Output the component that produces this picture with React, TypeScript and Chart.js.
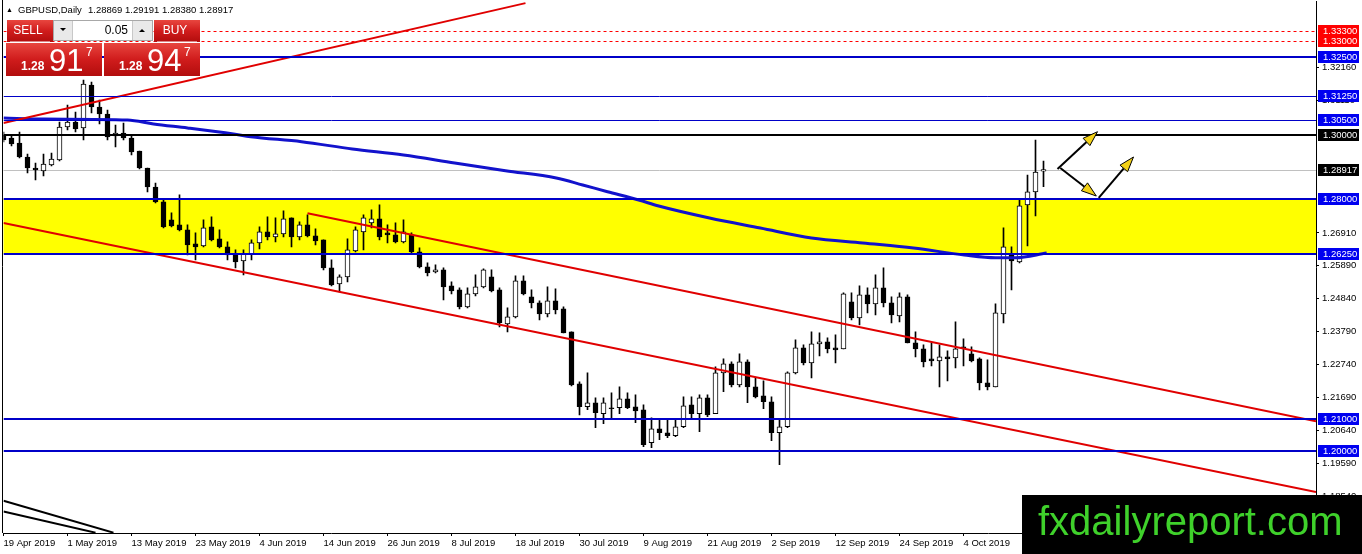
import React, { useEffect, useRef } from 'react';
import { Chart, registerables } from 'chart.js';

Chart.register(...registerables);

const FONT = '"Liberation Sans", Arial, sans-serif';

const SYMBOL = 'GBPUSD';
const TIMEFRAME = 'Daily';

const DATE_INDEX = [0, 8, 16, 24, 32, 40, 48, 56, 64, 72, 80, 88, 96, 104, 112, 120];
const DATE_LABELS = [
  '19 Apr 2019', '1 May 2019', '13 May 2019', '23 May 2019', '4 Jun 2019', '14 Jun 2019',
  '26 Jun 2019', '8 Jul 2019', '18 Jul 2019', '30 Jul 2019', '9 Aug 2019', '21 Aug 2019',
  '2 Sep 2019', '12 Sep 2019', '24 Sep 2019', '4 Oct 2019',
];

const OPEN = [
  1.30016, 1.29921, 1.29762, 1.29318, 1.28970, 1.28875, 1.29065, 1.29223, 1.30269, 1.30428,
  1.30238, 1.31601, 1.30903, 1.30682, 1.29984, 1.30079, 1.29921, 1.29509, 1.28970, 1.28367,
  1.27892, 1.27321, 1.27163, 1.27004, 1.26560, 1.26497, 1.27099, 1.26719, 1.26465, 1.26243,
  1.26022, 1.26243, 1.26592, 1.26941, 1.26782, 1.26878, 1.27385, 1.26782, 1.27163, 1.26814,
  1.26687, 1.25800, 1.25292, 1.25514, 1.26339, 1.26941, 1.27226, 1.27353, 1.26909, 1.26846,
  1.26624, 1.26846, 1.26307, 1.25831, 1.25673, 1.25736, 1.25229, 1.25102, 1.24563, 1.24975,
  1.25197, 1.25514, 1.25102, 1.24024, 1.24246, 1.25388, 1.24880, 1.24690, 1.24341, 1.24753,
  1.24500, 1.23770, 1.22122, 1.21393, 1.21520, 1.21171, 1.21362, 1.21362, 1.21647, 1.21393,
  1.21298, 1.20252, 1.20696, 1.20569, 1.20474, 1.20759, 1.21457, 1.21171, 1.21678, 1.21171,
  1.22471, 1.22756, 1.22090, 1.22820, 1.22027, 1.21742, 1.21552, 1.20569, 1.20759, 1.22471,
  1.23264, 1.22788, 1.23391, 1.23454, 1.23264, 1.23232, 1.24722, 1.24214, 1.24944, 1.24658,
  1.25166, 1.24690, 1.24278, 1.24880, 1.23422, 1.23232, 1.22915, 1.22852, 1.22978, 1.22947,
  1.23296, 1.23074, 1.22915, 1.22154, 1.22027, 1.24341, 1.26212, 1.25990, 1.27797, 1.28209,
  1.28869,
];
const HIGH = [
  1.30111, 1.29984, 1.30111, 1.29414, 1.29128, 1.29414, 1.29445, 1.30428, 1.30967, 1.30745,
  1.31759, 1.31696, 1.31125, 1.30808, 1.30333, 1.30396, 1.30016, 1.29509, 1.28970, 1.28494,
  1.27955, 1.27543, 1.28114, 1.27163, 1.26909, 1.27321, 1.27416, 1.27004, 1.26624, 1.26370,
  1.26370, 1.26687, 1.27099, 1.27416, 1.27385, 1.27607, 1.27385, 1.27258, 1.27480, 1.27036,
  1.26687, 1.26053, 1.25578, 1.26719, 1.27099, 1.27480, 1.27638, 1.27797, 1.27163, 1.27226,
  1.27321, 1.26909, 1.26434, 1.25958, 1.25895, 1.25800, 1.25356, 1.25166, 1.25166, 1.25578,
  1.25768, 1.25736, 1.25166, 1.24532, 1.25546, 1.25546, 1.25102, 1.24753, 1.25197, 1.25134,
  1.24563, 1.23770, 1.22185, 1.22471, 1.21678, 1.21678, 1.21837, 1.22027, 1.21837, 1.21773,
  1.21457, 1.21044, 1.20981, 1.20981, 1.20981, 1.21710, 1.21710, 1.21773, 1.21773, 1.22661,
  1.22915, 1.22820, 1.23074, 1.22883, 1.22312, 1.22217, 1.21710, 1.20981, 1.22503, 1.23518,
  1.23359, 1.23770, 1.23739, 1.23581, 1.23676, 1.25007, 1.25007, 1.25229, 1.25166, 1.25578,
  1.25800, 1.24880, 1.25007, 1.24944, 1.23770, 1.23359, 1.23422, 1.23359, 1.23169, 1.24087,
  1.23550, 1.23296, 1.22947, 1.22883, 1.24658, 1.27068, 1.26465, 1.27955, 1.28748, 1.29857,
  1.29191,
];
const LOW = [
  1.29794, 1.29667, 1.29287, 1.28811, 1.28589, 1.28716, 1.29033, 1.29192, 1.30174, 1.30111,
  1.29857, 1.30713, 1.30365, 1.29857, 1.29635, 1.29857, 1.29382, 1.28938, 1.28209, 1.27860,
  1.27068, 1.27099, 1.26973, 1.26212, 1.26053, 1.26465, 1.26656, 1.26434, 1.26053, 1.25800,
  1.25578, 1.26053, 1.26402, 1.26687, 1.26624, 1.26782, 1.26465, 1.26687, 1.26782, 1.26529,
  1.25736, 1.25229, 1.25039, 1.25356, 1.26307, 1.26370, 1.27068, 1.26687, 1.26592, 1.26592,
  1.26592, 1.26275, 1.25800, 1.25546, 1.25641, 1.24785, 1.24975, 1.24500, 1.24532, 1.24912,
  1.25166, 1.25039, 1.23929, 1.23770, 1.24214, 1.24944, 1.24532, 1.24151, 1.24246, 1.24341,
  1.23739, 1.22058, 1.21139, 1.21298, 1.20727, 1.20854, 1.20981, 1.21171, 1.21330, 1.20886,
  1.20125, 1.20094, 1.20347, 1.20410, 1.20442, 1.20727, 1.21013, 1.20600, 1.21076, 1.21171,
  1.21869, 1.22027, 1.22027, 1.21520, 1.21678, 1.21330, 1.20315, 1.19555, 1.20727, 1.22439,
  1.22725, 1.22312, 1.23010, 1.23105, 1.22788, 1.23232, 1.24151, 1.23992, 1.24373, 1.24310,
  1.24563, 1.24055, 1.24087, 1.23422, 1.22978, 1.22661, 1.22693, 1.22027, 1.22217, 1.22630,
  1.22693, 1.22820, 1.21932, 1.21932, 1.22027, 1.24055, 1.25102, 1.25958, 1.26497, 1.27448,
  1.28380,
];
const CLOSE = [
  1.29857, 1.29731, 1.29318, 1.28970, 1.28906, 1.29097, 1.29255, 1.30269, 1.30428, 1.30206,
  1.31633, 1.30903, 1.30682, 1.29952, 1.30079, 1.29921, 1.29477, 1.28970, 1.28367, 1.27892,
  1.27099, 1.27131, 1.27004, 1.26529, 1.26465, 1.27068, 1.26687, 1.26465, 1.26212, 1.25990,
  1.26243, 1.26592, 1.26941, 1.26782, 1.26878, 1.27353, 1.26782, 1.27163, 1.26814, 1.26656,
  1.25800, 1.25261, 1.25514, 1.26370, 1.27004, 1.27385, 1.27353, 1.26782, 1.26846, 1.26624,
  1.26941, 1.26307, 1.25831, 1.25641, 1.25736, 1.25197, 1.25070, 1.24563, 1.24975, 1.25197,
  1.25736, 1.25070, 1.24055, 1.24246, 1.25388, 1.24975, 1.24690, 1.24341, 1.24753, 1.24468,
  1.23739, 1.22090, 1.21393, 1.21520, 1.21203, 1.21520, 1.21330, 1.21647, 1.21362, 1.21266,
  1.20189, 1.20696, 1.20569, 1.20474, 1.20759, 1.21425, 1.21171, 1.21678, 1.21139, 1.22471,
  1.22756, 1.22090, 1.22820, 1.22027, 1.21710, 1.21552, 1.20569, 1.20759, 1.22471, 1.23264,
  1.22788, 1.23391, 1.23454, 1.23232, 1.23200, 1.24975, 1.24214, 1.24944, 1.24658, 1.25166,
  1.24690, 1.24310, 1.24880, 1.23422, 1.23232, 1.22820, 1.22852, 1.22978, 1.22915, 1.23232,
  1.23264, 1.22852, 1.22154, 1.22027, 1.24373, 1.26465, 1.26022, 1.27765, 1.28209, 1.28843,
  1.28917,
];

// moving average, read at points along the curve
const MA_X = [0, 5, 15.5, 18.75, 23, 28.75, 30.9, 37.25, 43.6, 50, 56.4, 62.75, 69.1, 72.4, 75.5, 79.4, 81.9, 88.25, 94.6, 101, 107.4, 113.75, 120.1, 124, 126.5, 130.4];
const MA_Y = [1.30555, 1.30520, 1.30492, 1.30365, 1.30238, 1.30048, 1.29962, 1.29803, 1.29572, 1.29381, 1.29127, 1.28883, 1.28652, 1.28430, 1.28217, 1.27954, 1.27763, 1.27383, 1.27065, 1.26748, 1.26589, 1.26431, 1.26209, 1.26123, 1.26123, 1.26272];

// trend lines (bar index, price)
const TREND_UP_X = [0, 65.25];
const TREND_UP_Y = [1.30396, 1.34200];
const CHANNEL_LOW_X = [0, 164.0625];
const CHANNEL_LOW_Y = [1.27226, 1.18693];
const CHANNEL_MID_X = [38, 164.0625];
const CHANNEL_MID_Y = [1.27534, 1.20931];
const BLACK_A_X = [0, 13.75];
const BLACK_A_Y = [1.18414, 1.17399];
const BLACK_B_X = [0, 11.5];
const BLACK_B_Y = [1.18074, 1.17399];

// arrows
const ARROW_X0 = [131.75, 132.1, 136.9];
const ARROW_Y0 = [1.28938, 1.28970, 1.28019];
const ARROW_X1 = [136.75, 136.6, 141.25];
const ARROW_Y1 = [1.30120, 1.28080, 1.29318];

// horizontal levels
const DASH_LEVELS = [1.333, 1.33];
const BLUE_LEVELS = [1.325, 1.3125, 1.305, 1.28, 1.2625, 1.21, 1.2];
const BLUE_WIDTHS = [2, 1, 1, 2, 2, 2, 2];
const BLACK_LEVEL = 1.3;
const ZONE_TOP = 1.28;
const ZONE_BOTTOM = 1.2625;
const BID = 1.28917;
const ASK = 1.28947;
const LOT = '0.05';

const PRICE_TICKS = [1.3216, 1.3111, 1.2691, 1.2589, 1.2484, 1.2379, 1.2274, 1.2169, 1.2064, 1.1959, 1.1854];

const X_MAX = 164.0625;
const Y_MIN = 1.17389;
const Y_MAX = 1.34267;

function pts(xs: number[], ys: number[]) {
  return xs.map((x, k) => ({ x, y: ys[k] }));
}

function redGrad(ctx: CanvasRenderingContext2D, y: number, h: number) {
  const g = ctx.createLinearGradient(0, y, 0, y + h);
  g.addColorStop(0, '#e8463f');
  g.addColorStop(0.5, '#d01c1c');
  g.addColorStop(1, '#b20d0d');
  return g;
}

function drawPanel(ctx: CanvasRenderingContext2D) {
  ctx.save();
  // SELL
  ctx.fillStyle = redGrad(ctx, 20, 22);
  ctx.fillRect(7, 20, 46, 22);
  // lot box
  ctx.fillStyle = '#e9e9e9';
  ctx.fillRect(53, 20, 100, 21);
  ctx.strokeStyle = '#a8a8a8';
  ctx.lineWidth = 1;
  ctx.strokeRect(53.5, 20.5, 99, 20);
  ctx.fillStyle = '#ffffff';
  ctx.fillRect(73, 21, 59, 19);
  ctx.strokeStyle = '#c8c8c8';
  ctx.beginPath();
  ctx.moveTo(72.5, 21); ctx.lineTo(72.5, 40);
  ctx.moveTo(132.5, 21); ctx.lineTo(132.5, 40);
  ctx.stroke();
  ctx.fillStyle = '#000';
  ctx.beginPath();
  ctx.moveTo(60, 28); ctx.lineTo(66, 28); ctx.lineTo(63, 31); ctx.closePath(); ctx.fill();
  ctx.beginPath();
  ctx.moveTo(139, 32); ctx.lineTo(145, 32); ctx.lineTo(142, 29); ctx.closePath(); ctx.fill();
  ctx.font = `12px ${FONT}`;
  ctx.textBaseline = 'middle';
  ctx.textAlign = 'right';
  ctx.fillText(LOT, 128, 31);
  // BUY
  ctx.fillStyle = redGrad(ctx, 20, 22);
  ctx.fillRect(154, 20, 46, 22);
  ctx.fillStyle = '#ffffff';
  ctx.textAlign = 'center';
  ctx.font = `12px ${FONT}`;
  ctx.fillText('SELL', 28, 31);
  ctx.fillText('BUY', 175, 31);
  ctx.fillStyle = 'rgba(255,255,255,0.5)';
  ctx.fillRect(10, 41, 40, 1);
  ctx.fillRect(157, 41, 40, 1);
  // price boxes
  const boxes = [
    { x: 6, price: BID },
    { x: 104, price: ASK },
  ];
  boxes.forEach((b) => {
    ctx.fillStyle = redGrad(ctx, 43, 33);
    ctx.fillRect(b.x, 43, 96, 33);
    const s = b.price.toFixed(5);
    const big = s.slice(4, 6);
    const small = s.slice(0, 4);
    const last = s.slice(6);
    ctx.fillStyle = '#ffffff';
    ctx.textAlign = 'left';
    ctx.textBaseline = 'alphabetic';
    ctx.font = `bold 12px ${FONT}`;
    ctx.fillText(small, b.x + 15, 70);
    ctx.font = `31px ${FONT}`;
    ctx.fillText(big, b.x + 43, 71);
    ctx.font = `12px ${FONT}`;
    ctx.fillText(last, b.x + 80, 56);
  });
  ctx.restore();
}

const mt4Plugin = {
  id: 'mt4',
  beforeDatasetsDraw(chart: any) {
    const { ctx, chartArea, scales } = chart;
    const { left, right } = chartArea;
    const y = scales.y;
    ctx.save();
    const y1 = y.getPixelForValue(ZONE_TOP);
    const y2 = y.getPixelForValue(ZONE_BOTTOM);
    ctx.fillStyle = '#ffff00';
    ctx.fillRect(left, y1, right - left, y2 - y1);
    const by = Math.round(y.getPixelForValue(BID)) + 0.5;
    ctx.strokeStyle = '#c0c0c0';
    ctx.lineWidth = 1;
    ctx.beginPath();
    ctx.moveTo(left, by);
    ctx.lineTo(right, by);
    ctx.stroke();
    ctx.restore();
  },
  afterDatasetsDraw(chart: any) {
    const { ctx, chartArea, scales } = chart;
    const { left, right, top, bottom } = chartArea;
    const x = scales.x;
    const y = scales.y;
    ctx.save();
    ctx.beginPath();
    ctx.rect(left, top, right - left, bottom - top);
    ctx.clip();
    // dashed red levels
    ctx.strokeStyle = '#ff0000';
    ctx.lineWidth = 1;
    ctx.setLineDash([3, 3]);
    DASH_LEVELS.forEach((p) => {
      const py = Math.round(y.getPixelForValue(p)) + 0.5;
      ctx.beginPath();
      ctx.moveTo(left, py);
      ctx.lineTo(right, py);
      ctx.stroke();
    });
    ctx.setLineDash([]);
    // blue levels
    ctx.strokeStyle = '#0000c8';
    BLUE_LEVELS.forEach((p, k) => {
      const w = BLUE_WIDTHS[k];
      ctx.lineWidth = w;
      const py = Math.round(y.getPixelForValue(p)) + (w % 2 ? 0.5 : 0);
      ctx.beginPath();
      ctx.moveTo(left, py);
      ctx.lineTo(right, py);
      ctx.stroke();
    });
    // black 1.30000
    ctx.strokeStyle = '#000000';
    ctx.lineWidth = 2;
    const ky = Math.round(y.getPixelForValue(BLACK_LEVEL));
    ctx.beginPath();
    ctx.moveTo(left, ky);
    ctx.lineTo(right, ky);
    ctx.stroke();
    // arrows
    ARROW_X0.forEach((_, k) => {
      const x0 = x.getPixelForValue(ARROW_X0[k]);
      const y0 = y.getPixelForValue(ARROW_Y0[k]);
      const x1 = x.getPixelForValue(ARROW_X1[k]);
      const y1 = y.getPixelForValue(ARROW_Y1[k]);
      const a = Math.atan2(y1 - y0, x1 - x0);
      const L = 15;
      const W = 5;
      const bx = x1 - L * Math.cos(a);
      const by = y1 - L * Math.sin(a);
      ctx.strokeStyle = '#000';
      ctx.lineWidth = 2;
      ctx.beginPath();
      ctx.moveTo(x0, y0);
      ctx.lineTo(bx, by);
      ctx.stroke();
      ctx.beginPath();
      ctx.moveTo(x1, y1);
      ctx.lineTo(bx + W * Math.sin(a), by - W * Math.cos(a));
      ctx.lineTo(bx - W * Math.sin(a), by + W * Math.cos(a));
      ctx.closePath();
      ctx.fillStyle = '#f3d116';
      ctx.fill();
      ctx.lineWidth = 1;
      ctx.strokeStyle = '#000';
      ctx.stroke();
    });
    ctx.restore();
  },
  afterDraw(chart: any) {
    const { ctx, chartArea, scales } = chart;
    const { right, bottom } = chartArea;
    const y = scales.y;
    ctx.save();
    // left border
    ctx.strokeStyle = '#000';
    ctx.lineWidth = 1;
    ctx.beginPath();
    ctx.moveTo(2.5, 0);
    ctx.lineTo(2.5, bottom);
    ctx.stroke();
    // price labels on the axis
    const labels: { p: number; bg: string }[] = [];
    DASH_LEVELS.forEach((p) => labels.push({ p, bg: '#ff0000' }));
    BLUE_LEVELS.forEach((p) => labels.push({ p, bg: '#0000f0' }));
    labels.push({ p: BLACK_LEVEL, bg: '#000000' });
    labels.push({ p: BID, bg: '#000000' });
    ctx.font = `9.5px ${FONT}`;
    ctx.textBaseline = 'middle';
    ctx.textAlign = 'left';
    labels.forEach(({ p, bg }) => {
      const py = Math.round(y.getPixelForValue(p));
      ctx.fillStyle = bg;
      ctx.fillRect(right + 2, py - 6, 41, 12);
      ctx.fillStyle = '#ffffff';
      ctx.fillText(p.toFixed(5), right + 7, py + 0.5);
    });
    // header
    const n = OPEN.length - 1;
    ctx.fillStyle = '#000';
    ctx.font = `7px ${FONT}`;
    ctx.fillText('▲', 6, 10);
    ctx.font = `9.5px ${FONT}`;
    ctx.fillText(`${SYMBOL},${TIMEFRAME}`, 18, 10);
    ctx.fillText(
      `${OPEN[n].toFixed(5)} ${HIGH[n].toFixed(5)} ${LOW[n].toFixed(5)} ${CLOSE[n].toFixed(5)}`,
      88,
      10,
    );
    drawPanel(ctx);
    // watermark
    ctx.fillStyle = '#000';
    ctx.fillRect(1022, 495, 340, 59);
    ctx.fillStyle = '#3fd12b';
    ctx.font = `40px ${FONT}`;
    ctx.textBaseline = 'alphabetic';
    ctx.fillText('fxdailyreport.com', 1038, 535);
    ctx.restore();
  },
};

export default function App() {
  const ref = useRef<HTMLCanvasElement | null>(null);

  useEffect(() => {
    const canvas = ref.current;
    if (!canvas) return;
    const bull = OPEN.map((o, i) => CLOSE[i] >= o);
    const chart = new Chart(canvas, {
      type: 'bar',
      data: {
        datasets: [
          {
            type: 'bar',
            data: OPEN.map((_, i) => ({ x: i, y: [LOW[i], HIGH[i]] })) as any,
            backgroundColor: '#000',
            borderWidth: 0,
            barThickness: 1,
            grouped: false,
            order: 5,
          } as any,
          {
            type: 'bar',
            data: OPEN.map((o, i) => ({ x: i, y: [Math.min(o, CLOSE[i]), Math.max(o, CLOSE[i])] })) as any,
            backgroundColor: bull.map((b) => (b ? '#ffffff' : '#000000')),
            borderColor: '#000',
            borderWidth: 1,
            borderSkipped: false,
            barThickness: 5,
            grouped: false,
            order: 4,
          } as any,
          {
            type: 'line',
            data: pts(MA_X, MA_Y) as any,
            borderColor: '#1212cc',
            borderWidth: 3,
            pointRadius: 0,
            cubicInterpolationMode: 'monotone',
            fill: false,
            order: 3,
          } as any,
          ...[
            [TREND_UP_X, TREND_UP_Y],
            [CHANNEL_LOW_X, CHANNEL_LOW_Y],
            [CHANNEL_MID_X, CHANNEL_MID_Y],
          ].map(([xs, ys]) => ({
            type: 'line',
            data: pts(xs, ys),
            borderColor: '#e00000',
            borderWidth: 2,
            pointRadius: 0,
            fill: false,
            order: 1,
          })) as any,
          ...[
            [BLACK_A_X, BLACK_A_Y],
            [BLACK_B_X, BLACK_B_Y],
          ].map(([xs, ys]) => ({
            type: 'line',
            data: pts(xs, ys),
            borderColor: '#000000',
            borderWidth: 2,
            pointRadius: 0,
            fill: false,
            order: 1,
          })) as any,
        ],
      },
      options: {
        responsive: false,
        animation: false,
        devicePixelRatio: 1,
        events: [],
        layout: { padding: { left: 3.5, top: 1, right: 0, bottom: 0 } },
        plugins: { legend: { display: false }, tooltip: { enabled: false } },
        scales: {
          x: {
            type: 'linear',
            position: 'bottom',
            min: 0,
            max: X_MAX,
            offset: false,
            grid: { display: true, drawOnChartArea: false, drawTicks: true, tickLength: 3, color: '#000', offset: false },
            border: { display: true, color: '#000', width: 1 },
            afterBuildTicks: (s: any) => {
              s.ticks = DATE_INDEX.map((v) => ({ value: v }));
            },
            afterFit: (s: any) => {
              s.height = 21;
              s.paddingLeft = 0;
              s.paddingRight = 0;
            },
            ticks: {
              autoSkip: false,
              maxRotation: 0,
              minRotation: 0,
              align: 'start',
              padding: 2,
              color: '#000',
              font: { family: FONT, size: 9.5 },
              callback: (v: any) => {
                const k = DATE_INDEX.indexOf(Number(v));
                return k >= 0 ? DATE_LABELS[k] : '';
              },
            },
          } as any,
          y: {
            type: 'linear',
            position: 'right',
            min: Y_MIN,
            max: Y_MAX,
            grid: { display: true, drawOnChartArea: false, drawTicks: true, tickLength: 3, color: '#000' },
            border: { display: true, color: '#000', width: 1 },
            afterBuildTicks: (s: any) => {
              s.ticks = PRICE_TICKS.map((v) => ({ value: v }));
            },
            afterFit: (s: any) => {
              s.width = 46;
              s.paddingTop = 0;
              s.paddingBottom = 0;
            },
            ticks: {
              padding: 3,
              color: '#000',
              font: { family: FONT, size: 9.5 },
              callback: (v: any) => Number(v).toFixed(5),
            },
          } as any,
        },
      },
      plugins: [mt4Plugin as any],
    });
    return () => chart.destroy();
  }, []);

  return (
    <div style={{ position: 'fixed', left: 0, top: 0, width: 1362, height: 554, background: '#ffffff' }}>
      <canvas ref={ref} width={1362} height={554} style={{ display: 'block', width: 1362, height: 554 }} />
    </div>
  );
}
